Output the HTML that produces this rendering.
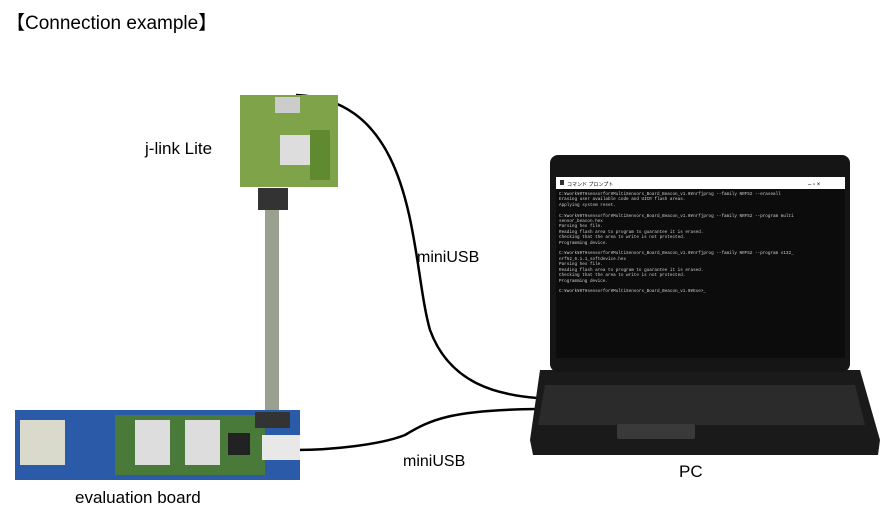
<!DOCTYPE html>
<html><head><style>
body{margin:0;width:880px;height:513px;background:#fff;overflow:hidden;position:relative;font-family:"Liberation Sans","Noto Sans CJK JP",sans-serif;}
.t{position:absolute;color:#000;white-space:nowrap}
.term{position:absolute;left:556px;top:189px;width:289px;height:169px;background:#0c0c0c;color:#ccc;font-family:"Liberation Mono",monospace;font-size:4.3px;line-height:5.4px;padding:3px;box-sizing:border-box;overflow:hidden}
</style></head><body>
<div class="t" style="left:6px;top:8px;font-size:19px">【Connection example】</div>
<div class="t" style="left:145px;top:139px;font-size:17px">j-link Lite</div>
<div class="t" style="left:417px;top:249px;font-size:16px">miniUSB</div>
<div class="t" style="left:403px;top:453px;font-size:16px">miniUSB</div>
<div class="t" style="left:75px;top:488px;font-size:17px">evaluation board</div>
<div class="t" style="left:679px;top:462px;font-size:17px">PC</div>
<svg width="880" height="513" style="position:absolute;left:0;top:0">
<!-- cables -->
<path d="M296,95 C420,100 410,260 430,330 C450,385 500,395 537,398" fill="none" stroke="#000" stroke-width="2.5"/>
<path d="M296,450 C330,450 380,445 405,435 C430,420 450,410 537,409" fill="none" stroke="#000" stroke-width="2.5"/>
<!-- j-link -->
<rect x="265" y="195" width="14" height="215" fill="#9aa08f"/>
<rect x="258" y="188" width="30" height="22" fill="#333"/>
<rect x="240" y="95" width="98" height="92" fill="#7fa348"/>
<rect x="275" y="97" width="25" height="16" fill="#ccc"/>
<rect x="280" y="135" width="30" height="30" fill="#ddd"/>
<rect x="310" y="130" width="20" height="50" fill="#5f8a30"/>
<!-- eval board -->
<rect x="15" y="410" width="285" height="70" fill="#2a5aa8"/>
<rect x="20" y="420" width="45" height="45" fill="#d9d9cc"/>
<rect x="115" y="415" width="150" height="60" fill="#4a7a3a"/>
<rect x="135" y="420" width="35" height="45" fill="#ddd"/>
<rect x="185" y="420" width="35" height="45" fill="#ddd"/>
<rect x="228" y="433" width="22" height="22" fill="#222"/>
<rect x="262" y="435" width="38" height="25" fill="#e8e8e8"/>
<rect x="255" y="412" width="35" height="16" fill="#333"/>
<!-- laptop -->
<path d="M540,370 L860,370 L880,440 L878,455 L533,455 L530,440 Z" fill="#1a1a1a"/>
<path d="M545,385 L855,385 L865,425 L538,425 Z" fill="#2b2b2b"/>
<rect x="617" y="424" width="78" height="15" rx="2" fill="#3a3a3a"/>
<rect x="550" y="155" width="300" height="217" rx="8" fill="#151515"/>
<rect x="556" y="177" width="289" height="12" fill="#fff"/>
<rect x="560" y="180" width="4" height="5" fill="#333"/>
<text x="567" y="186" font-size="5" font-family="Liberation Sans">コマンド プロンプト</text>
<text x="808" y="186" font-size="6" font-family="Liberation Sans">–   ▫   ×</text>
</svg>
<div class="term">C:¥work¥0T¥sensorfor¥MultiSensors_Board_Beacon_v1.0¥nrfjprog --family NRF52 --eraseall<br>Erasing user available code and UICR flash areas.<br>Applying system reset.<br><br>C:¥work¥0T¥sensorfor¥MultiSensors_Board_Beacon_v1.0¥nrfjprog --family NRF52 --program multi<br>sensor_beacon.hex<br>Parsing hex file.<br>Reading flash area to program to guarantee it is erased.<br>Checking that the area to write is not protected.<br>Programming device.<br><br>C:¥work¥0T¥sensorfor¥MultiSensors_Board_Beacon_v1.0¥nrfjprog --family NRF52 --program s132_<br>nrf52_6.1.1_softdevice.hex<br>Parsing hex file.<br>Reading flash area to program to guarantee it is erased.<br>Checking that the area to write is not protected.<br>Programming device.<br><br>C:¥work¥0T¥sensorfor¥MultiSensors_Board_Beacon_v1.0¥Exe&gt;_</div>
</body></html>
